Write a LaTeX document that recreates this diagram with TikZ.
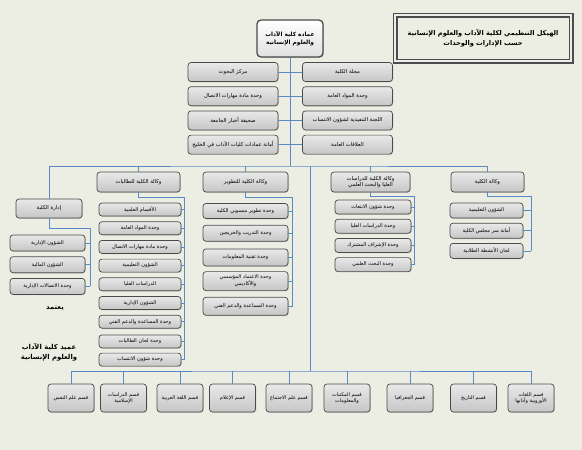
\documentclass[tikz,border=0pt]{standalone}
\usepackage{fontspec}
\newfontfamily\arabicfont[Script=Arabic]{DejaVu Sans}
\TeXXeTstate=1
\usetikzlibrary{positioning, shadows}
\definecolor{chartbg}{HTML}{EDEEE3}
\definecolor{chartline}{HTML}{5A8AC6}
\definecolor{chartedge}{HTML}{4A4A4A}
\definecolor{charttop}{HTML}{E9E9E9}
\definecolor{chartbot}{HTML}{C6C6C6}
\tikzset{
  node distance=4.5pt,
  unit/.style={rectangle, rounded corners=3pt, draw=chartedge, line width=0.7pt,
               top color=charttop, bottom color=chartbot, align=center, inner sep=1pt,
               drop shadow={shadow xshift=0.8pt, shadow yshift=-0.8pt, opacity=0.35},
               font=\arabicfont\fontsize{5.3}{6.4}\selectfont},
  pair/.style={unit, minimum width=90pt, minimum height=19pt},
  vice/.style={unit, minimum height=20pt},
  item/.style={unit, minimum height=14pt, font=\arabicfont\fontsize{5.1}{6}\selectfont},
  dept/.style={unit, minimum width=46pt, minimum height=28pt, font=\arabicfont\fontsize{5}{6.4}\selectfont},
  deanbox/.style={unit, rounded corners=4pt, line width=1.3pt, top color=white, bottom color=black!12,
                  minimum width=66pt, minimum height=37pt, font=\arabicfont\bfseries\fontsize{5.8}{8.5}\selectfont},
  headbox/.style={rectangle, draw=black!70, line width=1.8pt, double=white!85!gray, double distance=1.4pt,
                  fill=chartbg, minimum width=176pt, minimum height=46pt, align=center,
                  drop shadow={shadow xshift=1.2pt, shadow yshift=-1.2pt, opacity=0.4},
                  font=\arabicfont\bfseries\fontsize{6.6}{10}\selectfont},
  note/.style={align=center, font=\arabicfont\bfseries\fontsize{6.8}{10}\selectfont},
  link/.style={draw=chartline, line width=0.7pt},
}
\newcommand{\artxt}[1]{\beginR#1\endR}

\begin{document}
\begin{tikzpicture}[x=1pt, y=-1pt]
  \fill[chartbg] (0,0) rectangle (582,450);
  \useasboundingbox (0,0) rectangle (582,450);

  % title and deanship
  \node[headbox] (head) at (483,38) {\artxt{الهيكل التنظيمي لكلية الآداب والعلوم الإنسانية}\\\artxt{حسب الإدارات والوحدات}};
  \node[deanbox] (dean) at (290,38.5) {\artxt{عمادة كلية الآداب}\\\artxt{والعلوم الإنسانية}};

  % units attached to the deanship
  \node[pair] (cent) at (233,72) {\artxt{مركز البحوث}};
  \node[pair, below=of cent] (comm) {\artxt{وحدة مادة مهارات الاتصال}};
  \node[pair, below=of comm] (news) {\artxt{صحيفة أخبار الجامعة}};
  \node[pair, below=of news] (gulf) {\artxt{أمانة عمادات كليات الآداب في الخليج}};
  \node[pair] (jour) at (347.5,72) {\artxt{مجلة الكلية}};
  \node[pair, below=of jour] (gen) {\artxt{وحدة المواد العامة}};
  \node[pair, below=of gen] (enr) {\artxt{اللجنة التنفيذية لشؤون الانتساب}};
  \node[pair, below=of enr] (pub) {\artxt{العلاقات العامة}};

  % vice deanships
  \node[vice, minimum width=66pt, minimum height=19pt] (adm) at (49,208.5) {\artxt{إدارة الكلية}};
  \node[vice, minimum width=83pt] (tal) at (138.5,182) {\artxt{وكالة الكلية للطالبات}};
  \node[vice, minimum width=85pt] (dev) at (245.5,182) {\artxt{وكالة الكلية للتطوير}};
  \node[vice, minimum width=79pt] (grad) at (370.5,182) {\artxt{وكالة الكلية للدراسات}\\\artxt{العليا والبحث العلمي}};
  \node[vice, minimum width=73pt] (wak) at (487.5,182) {\artxt{وكالة الكلية}};

  % college administration
  \node[item, minimum width=75pt, minimum height=16pt] (a1) at (47.5,243) {\artxt{الشؤون الإدارية}};
  \node[item, minimum width=75pt, minimum height=16pt, below=5pt of a1] (a2) {\artxt{الشؤون المالية}};
  \node[item, minimum width=75pt, minimum height=16pt, below=5pt of a2] (a3) {\artxt{وحدة الاتصالات الإدارية}};

  % female students
  \node[item, minimum width=82pt, minimum height=13pt] (t1) at (140,209.5) {\artxt{الأقسام العلمية}};
  \node[item, minimum width=82pt, minimum height=13pt, below=5pt of t1] (t2) {\artxt{وحدة المواد العامة}};
  \node[item, minimum width=82pt, minimum height=13pt, below=5pt of t2] (t3) {\artxt{وحدة مادة مهارات الاتصال}};
  \node[item, minimum width=82pt, minimum height=13pt, below=5pt of t3] (t4) {\artxt{الشؤون التعليمية}};
  \node[item, minimum width=82pt, minimum height=13pt, below=5pt of t4] (t5) {\artxt{الدراسات العليا}};
  \node[item, minimum width=82pt, minimum height=13pt, below=5pt of t5] (t6) {\artxt{الشؤون الإدارية}};
  \node[item, minimum width=82pt, minimum height=13pt, below=5pt of t6] (t7) {\artxt{وحدة المساعدة والدعم الفني}};
  \node[item, minimum width=82pt, minimum height=13pt, below=6pt of t7] (t8) {\artxt{وحدة لجان الطالبات}};
  \node[item, minimum width=82pt, minimum height=13pt, below=4.5pt of t8] (t9) {\artxt{وحدة شؤون الانتساب}};

  % development
  \node[item, minimum width=85pt, minimum height=15pt] (v1) at (245.5,211) {\artxt{وحدة تطوير منسوبي الكلية}};
  \node[item, minimum width=85pt, minimum height=16pt, below=6pt of v1] (v2) {\artxt{وحدة التدريب والخريجين}};
  \node[item, minimum width=85pt, minimum height=17pt, below=7pt of v2] (v3) {\artxt{وحدة تقنية المعلومات}};
  \node[item, minimum width=85pt, minimum height=19pt, below=5pt of v3] (v4) {\artxt{وحدة الاعتماد المؤسسي}\\\artxt{والأكاديمي}};
  \node[item, minimum width=85pt, minimum height=18pt, below=6pt of v4] (v5) {\artxt{وحدة المساعدة والدعم الفني}};

  % graduate studies and research
  \node[item, minimum width=76pt] (g1) at (373,207) {\artxt{وحدة شؤون الابتعاث}};
  \node[item, minimum width=76pt, below=of g1] (g2) {\artxt{وحدة الدراسات العليا}};
  \node[item, minimum width=76pt, below=of g2] (g3) {\artxt{وحدة الإشراف المشترك}};
  \node[item, minimum width=76pt, below=of g3] (g4) {\artxt{وحدة البحث العلمي}};

  % vice deanship
  \node[item, minimum width=73pt, minimum height=15pt] (w1) at (486.5,210.5) {\artxt{الشؤون التعليمية}};
  \node[item, minimum width=73pt, minimum height=15pt, below=of w1] (w2) {\artxt{أمانة سر مجلس الكلية}};
  \node[item, minimum width=73pt, minimum height=15pt, below=of w2] (w3) {\artxt{لجان الأنشطة الطلابية}};

  % departments
  \node[dept] (d1) at (71,398) {\artxt{قسم علم النفس}};
  \node[dept] (d2) at (123.5,398) {\artxt{قسم الدراسات}\\\artxt{الإسلامية}};
  \node[dept] (d3) at (180,398) {\artxt{قسم اللغة العربية}};
  \node[dept] (d4) at (232.5,398) {\artxt{قسم الإعلام}};
  \node[dept] (d5) at (289,398) {\artxt{قسم علم الاجتماع}};
  \node[dept] (d6) at (347,398) {\artxt{قسم المكتبات}\\\artxt{والمعلومات}};
  \node[dept] (d7) at (410,398) {\artxt{قسم الجغرافيا}};
  \node[dept] (d8) at (473.5,398) {\artxt{قسم التاريخ}};
  \node[dept] (d9) at (531,398) {\artxt{قسم اللغات}\\\artxt{الأوروبية وآدابها}};

  % approval
  \node[note] (appr) at (55,308) {\artxt{يعتمد}};
  \node[note] (sign) at (49,352) {\artxt{عميد كلية الآداب}\\\artxt{والعلوم الإنسانية}};

  % connectors
  \coordinate (hub) at (290,166);
  \coordinate (hub2) at (310,166);
  \coordinate (dbus) at (310,371);
  \coordinate (abus) at (90,228);
  \coordinate (tbus) at (184.5,197);
  \coordinate (vbus) at (292.5,197);
  \coordinate (gbus) at (414,196);
  \coordinate (wbus) at (531,196);

  \draw[link] (dean.south) -- (hub);
  \draw[link] (cent.east) -- (jour.west);
  \draw[link] (comm.east) -- (gen.west);
  \draw[link] (news.east) -- (enr.west);
  \draw[link] (gulf.east) -- (pub.west);
  \draw[link] (adm.north) |- (hub) -| (wak.north);
  \foreach \n in {tal, dev, grad}
    \draw[link] (\n.north) -- (\n.north |- hub);

  \draw[link] (adm.south) |- (abus) -- (abus |- a3.east);
  \foreach \i in {1,...,3}
    \draw[link] (a\i.east) -- (abus |- a\i.east);
  \draw[link] (tal.south) |- (tbus) -- (tbus |- t9.east);
  \foreach \i in {1,...,9}
    \draw[link] (t\i.east) -- (tbus |- t\i.east);
  \draw[link] (dev.south) |- (vbus) -- (vbus |- v5.east);
  \foreach \i in {1,...,5}
    \draw[link] (v\i.east) -- (vbus |- v\i.east);
  \draw[link] (grad.south) |- (gbus) -- (gbus |- g4.east);
  \foreach \i in {1,...,4}
    \draw[link] (g\i.east) -- (gbus |- g\i.east);
  \draw[link] (wak.south) |- (wbus) -- (wbus |- w3.east);
  \foreach \i in {1,...,3}
    \draw[link] (w\i.east) -- (wbus |- w\i.east);

  \draw[link] (hub2) -- (dbus);
  \draw[link] (d1.north) |- (dbus) -| (d9.north);
  \foreach \i in {2,...,8}
    \draw[link] (d\i.north) -- (d\i.north |- dbus);
\end{tikzpicture}
\end{document}
